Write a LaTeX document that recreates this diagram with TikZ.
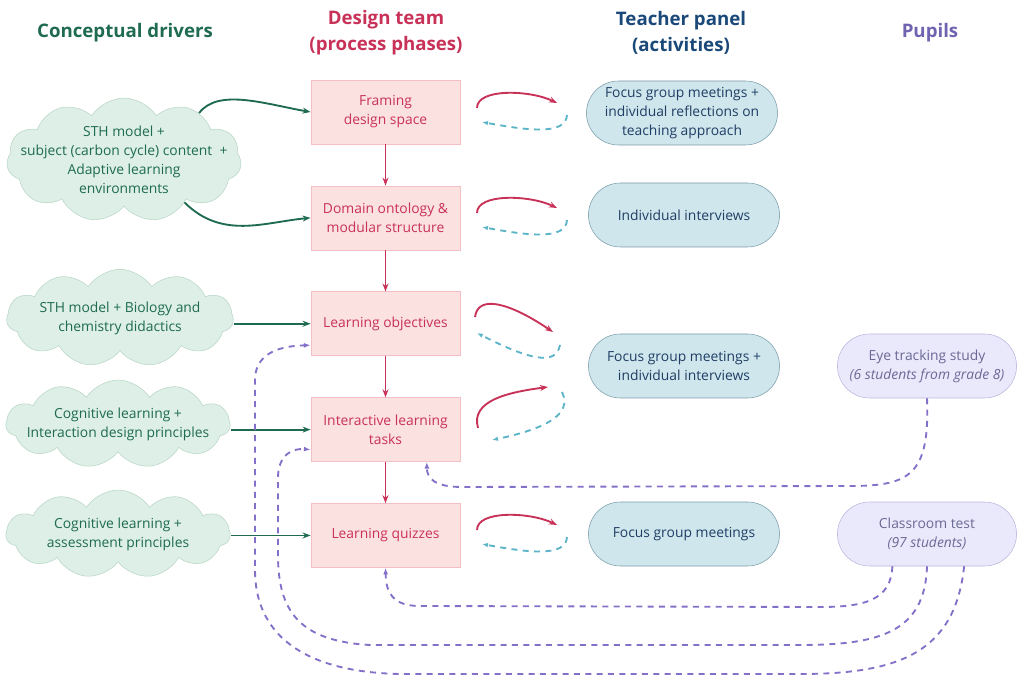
\documentclass[tikz,border=0pt]{standalone}
\usepackage{fontspec}
\setmainfont{Open Sans}
\usepackage{tikz}
\usetikzlibrary{shapes, shapes.symbols, shapes.misc, arrows.meta, positioning}

\definecolor{drivergreen}{RGB}{30,107,80}
\definecolor{cloudfill}{RGB}{221,239,230}
\definecolor{cloudline}{RGB}{184,214,198}
\definecolor{phasered}{RGB}{200,50,88}
\definecolor{phasefill}{RGB}{252,225,225}
\definecolor{phaseline}{RGB}{243,190,196}
\definecolor{headblue}{RGB}{26,72,120}
\definecolor{panelblue}{RGB}{32,62,100}
\definecolor{panelfill}{RGB}{207,230,237}
\definecolor{panelline}{RGB}{122,156,170}
\definecolor{loopblue}{RGB}{92,180,200}
\definecolor{pupilhead}{RGB}{112,100,176}
\definecolor{pupiltext}{RGB}{108,104,150}
\definecolor{pupilfill}{RGB}{234,233,251}
\definecolor{pupilline}{RGB}{186,181,222}
\definecolor{pupildash}{RGB}{132,112,200}

\newcommand{\bodyfont}{\fontsize{10.4}{14.3}\selectfont}
\newcommand{\headfont}{\fontsize{14}{19.5}\selectfont\bfseries}

\tikzset{
  heading/.style={font=\headfont, align=center},
  drivercloud/.style={cloud, cloud puffs=11, cloud puff arc=115, cloud ignores aspect,
    draw=cloudline, fill=cloudfill, inner sep=0pt},
  drivertext/.style={text=drivergreen, align=center, font=\bodyfont},
  phase/.style={rectangle, draw=phaseline, fill=phasefill, text=phasered, align=center,
    minimum width=112pt, minimum height=48pt, font=\bodyfont},
  activity/.style={rounded rectangle, draw=panelline, fill=panelfill, text=panelblue,
    align=center, minimum width=150pt, minimum height=48pt, font=\bodyfont},
  pupil/.style={rounded rectangle, draw=pupilline, fill=pupilfill, text=pupiltext,
    align=center, minimum width=141pt, minimum height=48pt, font=\bodyfont},
  drive/.style={-{Stealth[length=6pt]}, drivergreen, line width=1.4pt},
  flow/.style={-{Stealth[length=6pt]}, phasered, line width=1.4pt},
  feedback/.style={-{Latex[length=4.5pt]}, loopblue, line width=1.4pt, dash pattern=on 4.5pt off 4pt},
  pupilfeed/.style={-{Latex[length=5pt]}, pupildash, line width=1.4pt, dash pattern=on 4.5pt off 4pt},
}

\begin{document}
\begin{tikzpicture}[x=0.75pt, y=-0.75pt]
\useasboundingbox (0,0) rectangle (1022,677);

% column headings
\node[heading, text=drivergreen] (drivershead) at (125,33) {Conceptual drivers};
\node[heading, text=phasered] (designhead) at (386,33) {Design team\\(process phases)};
\node[heading, text=headblue] (panelhead) at (681,33) {Teacher panel\\(activities)};
\node[heading, text=pupilhead] (pupilshead) at (930,33) {Pupils};

% process phases
\node[phase] (framing) at (385.5,112) {Framing\\design space};
\node[phase, below=31pt of framing] (ontology) {Domain ontology \&\\modular structure};
\node[phase, below=31pt of ontology] (objectives) {Learning objectives};
\node[phase, below=31pt of objectives] (tasks) {Interactive learning\\tasks};
\node[phase, below=31pt of tasks] (quizzes) {Learning quizzes};

\draw[flow] (framing) -- (ontology);
\draw[flow] (ontology) -- (objectives);
\draw[flow] (objectives) -- (tasks);
\draw[flow] (tasks) -- (quizzes);

% conceptual drivers
\node[drivercloud, minimum width=176pt, minimum height=93pt,
  label={[drivertext]center:{STH model +\\subject (carbon cycle) content~~+\\Adaptive learning\\environments}}]
  (sth) at (124,160) {};
\node[drivercloud, minimum width=170pt, minimum height=73pt,
  label={[drivertext]center:{STH model + Biology and\\chemistry didactics}}]
  (didactics) at (120,318) {};
\node[drivercloud, minimum width=168pt, minimum height=66pt,
  label={[drivertext]center:{Cognitive learning +\\Interaction design principles}}]
  (interaction) at (118,424) {};
\node[drivercloud, minimum width=168pt, minimum height=66pt,
  label={[drivertext]center:{Cognitive learning +\\assessment principles}}]
  (assessment) at (118,534) {};

\draw[drive] (sth.32) .. controls (218,88) and (265,104) .. (framing.west);
\draw[drive] (sth.-35) .. controls (222,240) and (265,222) .. (ontology.west);
\draw[drive] (didactics.east |- objectives.west) -- (objectives.west);
\draw[drive] (interaction.east |- tasks.west) -- (tasks.west);
\draw[drive] (assessment.east |- quizzes.west) -- (quizzes.west);

% teacher panel
\node[activity] (reflections) at (682,113) {Focus group meetings +\\individual reflections on\\teaching approach};
\node[activity] (interviews) at (684,215) {Individual interviews};
\node[activity] (mixed) at (684,366) {Focus group meetings +\\individual interviews};
\node[activity] (meetings) at (684,534) {Focus group meetings};

\foreach \y in {112,217,534} {
  \draw[flow] (477,\y-4) .. controls (477,\y-24) and (530,\y-22) .. (557,\y-9);
  \draw[feedback] (567,\y+3) .. controls (566,\y+24) and (525,\y+18) .. (482,\y+10);
}
\draw[flow] (475,317) .. controls (478,294) and (510,303) .. (553,332);
\draw[feedback] (560,345) .. controls (556,366) and (530,360) .. (477,333);
\draw[flow] (478,428) .. controls (470,400) and (510,392) .. (548,387);
\draw[feedback] (562,392) .. controls (574,416) and (540,430) .. (492,440);

% pupils
\node[pupil] (eyetrack) at (927,366) {Eye tracking study\\\textit{(6 students from grade 8)}};
\node[pupil] (classtest) at (927,534) {Classroom test\\\textit{(97 students)}};

\draw[pupilfeed] (eyetrack.south) .. controls (930,475) and (910,486) .. (850,486)
  -- (462,487) .. controls (434,487) and (427,478) .. (tasks.-38);
\draw[pupilfeed] (classtest.-137) .. controls (891,600) and (865,607) .. (820,607)
  -- (420,606) .. controls (392,606) and (386,592) .. (quizzes.south);
\draw[pupilfeed] (classtest.south) .. controls (925,632) and (880,645) .. (800,645)
  -- (370,645) .. controls (300,641) and (278,612) .. (278,555)
  -- (278,478) .. controls (278,455) and (292,448) .. (tasks.195);
\draw[pupilfeed] (classtest.-41) .. controls (955,652) and (900,674) .. (800,674)
  -- (400,674) .. controls (300,672) and (255,632) .. (255,570)
  -- (255,380) .. controls (255,356) and (275,346) .. (objectives.196);

\end{tikzpicture}
\end{document}
